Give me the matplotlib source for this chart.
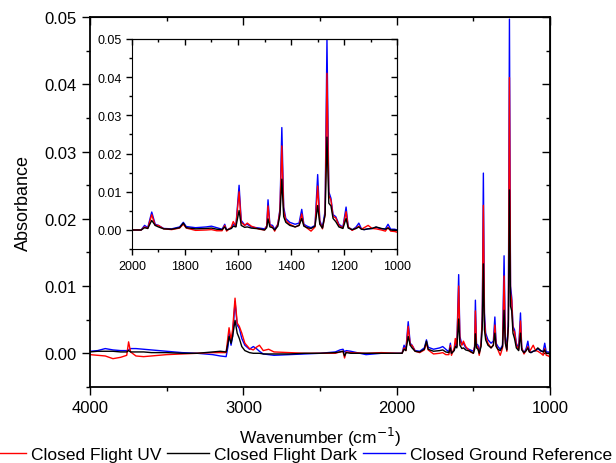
import matplotlib
matplotlib.use("Agg")
import matplotlib.pyplot as plt
from matplotlib.ticker import MultipleLocator, FormatStrFormatter

plt.rcParams['font.family'] = ['Liberation Sans', 'DejaVu Sans']

# anchor points (cm^-1, absorbance)
wavenumber = [4000, 3950, 3900, 3850, 3800, 3760, 3748, 3735, 3700, 3650,
              3600, 3500, 3400, 3300, 3200, 3150, 3112, 3100, 3093, 3080,
              3070, 3054, 3040, 3026, 3010, 2990, 2960, 2935, 2915, 2895,
              2870, 2835, 2800, 2700, 2600, 2500, 2400, 2370, 2350, 2340,
              2330, 2300, 2200, 2100, 2000, 1965, 1952, 1940, 1925, 1912,
              1900, 1880, 1850, 1820, 1806, 1795, 1760, 1720, 1700, 1680,
              1660, 1650, 1643, 1625, 1618, 1608, 1596, 1588, 1575, 1565,
              1550, 1520, 1500, 1492, 1487, 1480, 1470, 1462, 1450, 1442,
              1435, 1428, 1420, 1405, 1385, 1370, 1360, 1352, 1340, 1325,
              1310, 1300, 1292, 1282, 1272, 1265, 1258, 1250, 1242, 1232,
              1220, 1205, 1193, 1185, 1170, 1155, 1145, 1135, 1125, 1110,
              1095, 1080, 1060, 1045, 1035, 1025, 1010, 1000]

flight_uv = [-0.0002, -0.0003, -0.0004, -0.0008, -0.0006, -0.0003, 0.0017, 0.0002, -0.0004, -0.0005,
             -0.0004, -0.0002, -0.0001, 0.0, 0.0001, 0.0001, 0.0001, 0.0025, 0.0038, 0.0020,
             0.0035, 0.0082, 0.0045, 0.0040, 0.0030, 0.0015, 0.0007, 0.0005, 0.0009, 0.0012,
             0.0004, 0.0006, 0.0002, 0.0001, 0.0, 0.0, 0.0, 0.0002, 0.0003, -0.0007,
             0.0002, 0.0001, 0.0, 0.0001, 0.0, 0.0, 0.0008, 0.0004, 0.0040, 0.0012,
             0.0012, 0.0003, 0.0001, 0.0005, 0.0015, 0.0005, -0.0001, 0.0, 0.0001, -0.0002,
             -0.0002, 0.0012, -0.0003, 0.0008, 0.0022, 0.0010, 0.0100, 0.0020, 0.0012, 0.0018,
             0.0010, 0.0002, 0.0, 0.0010, 0.0063, 0.0012, 0.0008, -0.0003, 0.0015, 0.0050,
             0.0220, 0.0050, 0.0025, 0.0015, 0.0008, 0.0012, 0.0042, 0.0012, 0.0005, -0.0003,
             0.0008, 0.0115, 0.0020, 0.0003, 0.0040, 0.0410, 0.0090, 0.0078, 0.0035, 0.0032,
             0.0012, 0.0005, 0.0048, 0.0008, -0.0001, 0.0005, 0.0010, 0.0002, 0.0006, 0.0012,
             0.0004, 0.0003, 0.0, -0.0003, 0.0007, -0.0003, -0.0004, -0.0006]

flight_dark = [0.0002, 0.0003, 0.0003, 0.0003, 0.0002, 0.0002, 0.0004, 0.0002, 0.0002, 0.0002,
               0.0001, 0.0001, 0.0, 0.0, 0.0002, 0.0003, 0.0002, 0.0015, 0.0025, 0.0015,
               0.0025, 0.0049, 0.0030, 0.0022, 0.0010, 0.0004, 0.0001, 0.0, 0.0, 0.0,
               -0.0001, -0.0001, -0.0001, -0.0001, 0.0, 0.0, 0.0001, 0.0002, 0.0003, -0.0004,
               0.0001, 0.0, 0.0, 0.0, 0.0, 0.0, 0.0006, 0.0004, 0.0025, 0.0012,
               0.0008, 0.0003, 0.0002, 0.0006, 0.0018, 0.0006, 0.0003, 0.0004, 0.0005, 0.0002,
               0.0001, 0.0008, 0.0, 0.0004, 0.0010, 0.0008, 0.0051, 0.0012, 0.0007, 0.0008,
               0.0005, 0.0003, 0.0, 0.0006, 0.0029, 0.0008, 0.0006, 0.0, 0.0010, 0.0040,
               0.0133, 0.0035, 0.0020, 0.0012, 0.0008, 0.0012, 0.0030, 0.0010, 0.0006, 0.0004,
               0.0010, 0.0064, 0.0015, 0.0005, 0.0040, 0.0243, 0.0070, 0.0063, 0.0030, 0.0022,
               0.0008, 0.0004, 0.0030, 0.0005, 0.0001, 0.0004, 0.0008, 0.0002, 0.0001, 0.0003,
               0.0004, 0.0008, 0.0004, 0.0002, 0.0005, 0.0, 0.0, -0.0001]

ground_ref = [0.0003, 0.0004, 0.0007, 0.0005, 0.0004, 0.0004, 0.0005, 0.0007, 0.0007, 0.0006,
              0.0005, 0.0003, 0.0001, 0.0, -0.0002, -0.0004, -0.0005, 0.0010, 0.0030, 0.0012,
              0.0025, 0.0077, 0.0042, 0.0037, 0.0022, 0.0012, 0.0006, 0.0010, 0.0007, 0.0003,
              -0.0001, -0.0002, -0.0003, -0.0002, -0.0001, 0.0, 0.0002, 0.0005, 0.0006, 0.0002,
              0.0004, 0.0003, -0.0002, 0.0, 0.0, 0.0, 0.0012, 0.0006, 0.0047, 0.0015,
              0.0012, 0.0004, 0.0003, 0.0008, 0.0020, 0.0009, 0.0006, 0.0008, 0.0010, 0.0006,
              0.0002, 0.0015, 0.0, 0.0005, 0.0015, 0.0010, 0.0117, 0.0025, 0.0013, 0.0015,
              0.0008, 0.0005, 0.0003, 0.0010, 0.0079, 0.0014, 0.0012, 0.0002, 0.0015, 0.0055,
              0.0268, 0.0060, 0.0030, 0.0020, 0.0015, 0.0018, 0.0054, 0.0015, 0.0010, 0.0006,
              0.0012, 0.0145, 0.0025, 0.0006, 0.0050, 0.0497, 0.0100, 0.0083, 0.0040, 0.0035,
              0.0015, 0.0007, 0.0060, 0.0008, 0.0, 0.0008, 0.0018, 0.0003, 0.0001, 0.0003,
              0.0004, 0.0007, 0.0003, 0.0003, 0.0015, 0.0002, 0.0002, 0.0]

labels = ["Closed Flight UV", "Closed Flight Dark", "Closed Ground Reference"]
colors = ["#ff0000", "#000000", "#0000ff"]


def style_axes(ax, size, major, minor):
    # Origin-like ticks: outward on left/bottom, inward on top/right
    ax.tick_params(which='both', direction='out', labelsize=size, width=1)
    ax.tick_params(which='major', length=major)
    ax.tick_params(which='minor', length=minor)
    top = ax.secondary_xaxis('top')
    top.xaxis.set_major_locator(ax.xaxis.get_major_locator())
    top.xaxis.set_minor_locator(ax.xaxis.get_minor_locator())
    top.set_xticklabels([])
    right = ax.secondary_yaxis('right')
    right.yaxis.set_major_locator(ax.yaxis.get_major_locator())
    right.yaxis.set_minor_locator(ax.yaxis.get_minor_locator())
    right.set_yticklabels([])
    for twin in (top, right):
        twin.tick_params(which='both', direction='in', width=1)
        twin.tick_params(which='major', length=major)
        twin.tick_params(which='minor', length=minor)


def draw(ax):
    lines = {}
    # blue under red, black on top
    for key, y in [(2, ground_ref), (0, flight_uv), (1, flight_dark)]:
        ln, = ax.plot(wavenumber, y, color=colors[key], lw=1.0, label=labels[key])
        lines[key] = ln
    return [lines[0], lines[1], lines[2]]


fig = plt.figure(figsize=(6.16, 4.64), dpi=100)
ax = fig.add_axes([0.146, 0.164, 0.747, 0.797])
handles = draw(ax)
ax.set_xlim(4000, 1000)
ax.set_ylim(-0.005, 0.05)
ax.xaxis.set_major_locator(MultipleLocator(1000))
ax.xaxis.set_minor_locator(MultipleLocator(500))
ax.yaxis.set_major_locator(MultipleLocator(0.01))
ax.yaxis.set_minor_locator(MultipleLocator(0.005))
ax.yaxis.set_major_formatter(FormatStrFormatter('%.2f'))
for s in ax.spines.values():
    s.set_linewidth(1.3)
style_axes(ax, 12, 6, 3)
ax.set_xlabel("Wavenumber (cm$^{-1}$)", fontsize=12.5, labelpad=7)
ax.set_ylabel("Absorbance", fontsize=13, labelpad=9)

ins = fig.add_axes([0.214, 0.461, 0.431, 0.453])
ins.set_facecolor('white')
draw(ins)
ins.set_xlim(2000, 1000)
ins.set_ylim(-0.005, 0.05)
ins.xaxis.set_major_locator(MultipleLocator(200))
ins.xaxis.set_minor_locator(MultipleLocator(100))
ins.yaxis.set_major_locator(MultipleLocator(0.01))
ins.yaxis.set_minor_locator(MultipleLocator(0.005))
ins.yaxis.set_major_formatter(FormatStrFormatter('%.2f'))
style_axes(ins, 9, 4, 2)

fig.legend(handles, labels, loc='center', bbox_to_anchor=(0.484, 0.019), ncol=3,
           frameon=False, fontsize=12.5, handlelength=2.4, handletextpad=0.3,
           columnspacing=0.35, borderpad=0.0)

fig.savefig("out.png", dpi=100)
